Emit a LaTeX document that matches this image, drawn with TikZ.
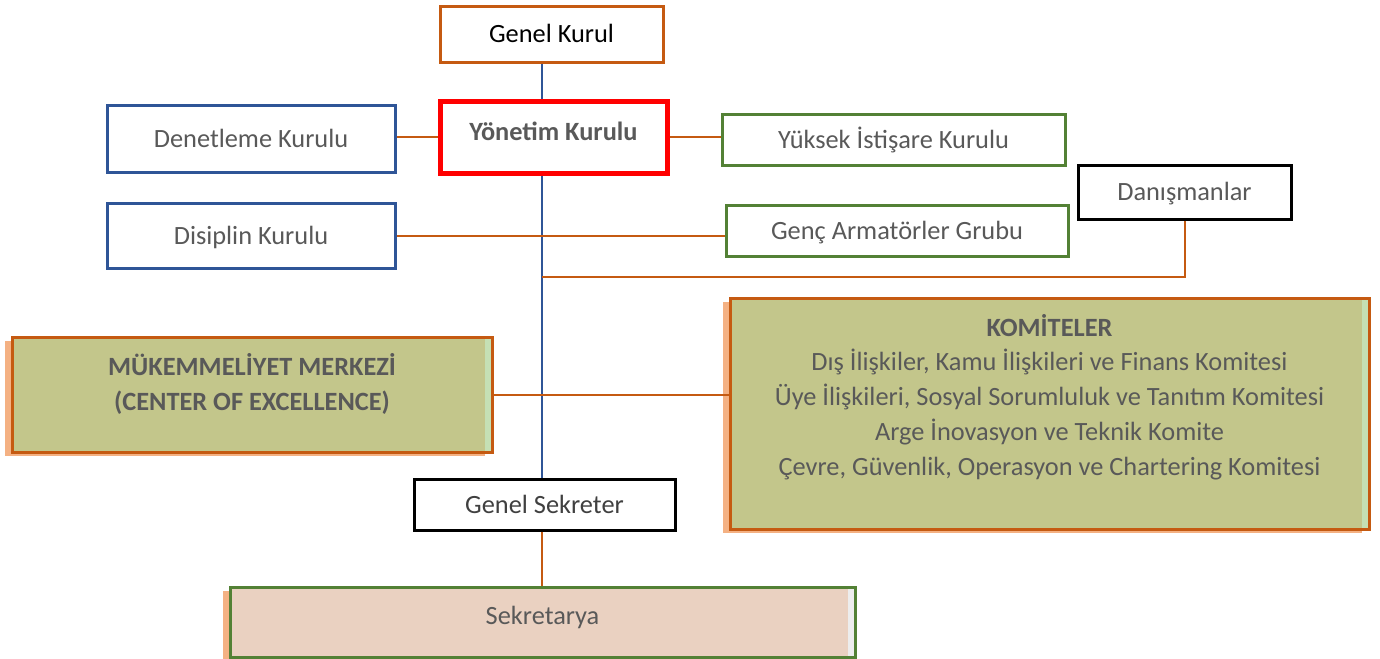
\documentclass[tikz,border=0pt]{standalone}
\usepackage{fontspec}
\setmainfont{Carlito}
\usetikzlibrary{shadows}
\newlength\pxu
\setlength\pxu{0.02cm}
\definecolor{orgline}{HTML}{C55A11}
\definecolor{blueline}{HTML}{2F5597}
\definecolor{grnline}{HTML}{538135}
\definecolor{olivefill}{HTML}{C3C68B}
\definecolor{peachshadow}{HTML}{F4B183}
\definecolor{palegreen}{HTML}{C5E0B4}
\definecolor{palegrey}{HTML}{EDEDED}
\definecolor{sekfill}{HTML}{EAD1C1}
\definecolor{greytext}{HTML}{595959}
\tikzset{
    box/.style={draw=#1, line width=3\pxu, fill=white, inner sep=0pt, text height=10pt, text depth=0pt, text=greytext, font=\fontsize{15}{18}\selectfont},
    bigbox/.style={box=#1, drop shadow={shadow xshift=-7\pxu, shadow yshift=-4\pxu, fill=peachshadow, opacity=1}},
    strip/.style={path picture={\fill[#1] ([xshift=-7\pxu]path picture bounding box.north east) rectangle (path picture bounding box.south east);}},
    conn/.style={draw=orgline, line width=2\pxu},
    spine/.style={draw=blueline, line width=2\pxu},
    boxtext/.style={text=greytext, align=center, inner sep=0pt, font=\fontsize{15}{19.8}\selectfont}
}

\begin{document}
\begin{tikzpicture}[x=0.02cm,y=-0.02cm]
\useasboundingbox (0,0) rectangle (1380,659);
% plain boxes
\foreach \nm/\x/\y/\bw/\bh/\col/\tc/\txt in {gk/551.5/34/223/56/orgline/black/{Genel Kurul}, dk/251/138.5/288/67/blueline/greytext/{Denetleme Kurulu}, yik/893.5/140/343/51/grnline/greytext/{Yüksek İstişare Kurulu}, dsk/251/235.5/288/65/blueline/greytext/{Disiplin Kurulu}, gag/897/231/342/51/grnline/greytext/{Genç Armatörler Grubu}, dan/1184.5/192/213/54/black/greytext/{Danışmanlar}, gs/544.5/504.5/261/51/black/black!75/{Genel Sekreter}}{
    \node[box=\col, text=\tc, minimum width=\bw\pxu, minimum height=\bh\pxu] (\nm) at (\x,\y) {\txt};
}
\node[box=red, line width=5\pxu, minimum width=227\pxu, minimum height=72\pxu] (yk) at (553.5,137) {};
\node[boxtext] (yktxt) at (553.5,131) {\textbf{Yönetim Kurulu}};
% shaded boxes
\node[bigbox=orgline, fill=olivefill, strip=palegreen, minimum width=480\pxu, minimum height=115\pxu] (mkz) at (252,394.5) {};
\node[boxtext] (mkztxt) at (252,384) {\textbf{MÜKEMMELİYET MERKEZİ}\\\textbf{(CENTER OF EXCELLENCE)}};
\node[bigbox=orgline, fill=olivefill, strip=palegreen, minimum width=639\pxu, minimum height=231\pxu] (kom) at (1049.5,413.5) {};
\node[boxtext] (komtxt) at (1049.5,397) {\textbf{KOMİTELER}\\Dış İlişkiler, Kamu İlişkileri ve Finans Komitesi\\Üye İlişkileri, Sosyal Sorumluluk ve Tanıtım Komitesi\\Arge İnovasyon ve Teknik Komite\\Çevre, Güvenlik, Operasyon ve Chartering Komitesi};
\node[bigbox=grnline, fill=sekfill, strip=palegrey, minimum width=625\pxu, minimum height=70\pxu] (sek) at (542.5,622) {};
\node[boxtext] (sektxt) at (542.5,617) {Sekretarya};
% connectors
\coordinate (axis) at (542,0);
\coordinate (advj) at (542,277);
\draw[spine] (gk.south -| axis) -- (yk.north -| axis);
\draw[spine] (yk.south -| axis) -- (gs.north -| axis);
\draw[conn] (yk.west) -- (yk.west -| dk.east);
\draw[conn] (yk.east) -- (yk.east -| yik.west);
\draw[conn] (dsk.east) -- (dsk.east -| gag.west);
\draw[conn] (dan.south) |- (advj);
\draw[conn] (mkz.east) -- (mkz.east -| kom.west);
\draw[conn] (gs.south -| axis) -- (sek.north -| axis);
\end{tikzpicture}
\end{document}
